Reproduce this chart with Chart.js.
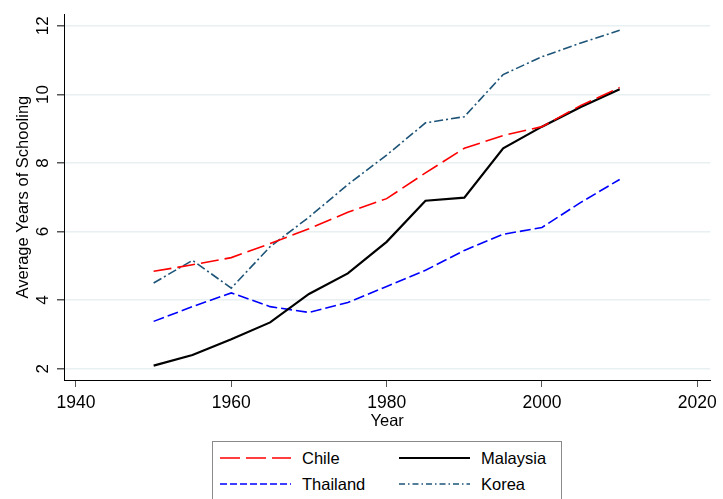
<!DOCTYPE html>
<html>
<head>
<meta charset="utf-8">
<script src="https://cdn.jsdelivr.net/npm/chart.js@4.4.1/dist/chart.umd.min.js"></script>
<style>
  body { margin: 0; background: #fff; font-family: "Liberation Sans", Arial, sans-serif; }
  #wrap { position: relative; width: 723px; height: 499px; overflow: hidden; }
  #chart { position: absolute; left: 0; top: 0; }
  #legend {
    position: absolute; left: 212px; top: 441px; width: 350px; height: 80px;
    border: 1px solid #8a8a8a; box-sizing: border-box;
  }
  .item { position: absolute; display: flex; align-items: center; font-size: 16.5px; color: #000; }
  .item svg { margin-right: 11px; }
</style>
</head>
<body>
<div id="wrap">
  <canvas id="chart" width="723" height="436"></canvas>
  <div id="legend"></div>
</div>
<script>
// data
const years = [1950, 1955, 1960, 1965, 1970, 1975, 1980, 1985, 1990, 1995, 2000, 2005, 2010];
const chile    = [4.84, 5.03, 5.24, 5.65, 6.08, 6.56, 6.96, 7.71, 8.43, 8.80, 9.06, 9.68, 10.20];
const malaysia = [2.09, 2.40, 2.86, 3.35, 4.18, 4.78, 5.70, 6.90, 6.99, 8.43, 9.06, 9.63, 10.15];
const thailand = [3.38, 3.81, 4.21, 3.81, 3.64, 3.93, 4.40, 4.87, 5.45, 5.92, 6.12, 6.85, 7.52];
const korea    = [4.50, 5.16, 4.35, 5.56, 6.42, 7.37, 8.23, 9.17, 9.35, 10.58, 11.10, 11.50, 11.87];

const xTicks = [1940, 1960, 1980, 2000, 2020];
const yTicks = [2, 4, 6, 8, 10, 12];

const series = [
    { label: 'Chile',    data: chile,    color: '#ff0000', width: 1.6, dash: [18, 6],       legendDash: [20, 6] },
    { label: 'Malaysia', data: malaysia, color: '#000000', width: 2.2, dash: [],            legendDash: [] },
    { label: 'Thailand', data: thailand, color: '#0000ff', width: 1.6, dash: [11, 4],       legendDash: [7, 3] },
    { label: 'Korea',    data: korea,    color: '#1d5478', width: 1.6, dash: [9, 3, 2, 3],  legendDash: [6, 3, 1.5, 3] }
];

const fontFamily = '"Liberation Sans", Arial, sans-serif';

const ctx = document.getElementById('chart').getContext('2d');
const chart = new Chart(ctx, {
    type: 'line',
    data: {
        datasets: series.map(s => ({
            label: s.label,
            data: years.map((y, i) => ({ x: y, y: s.data[i] })),
            borderColor: s.color,
            borderWidth: s.width,
            borderDash: s.dash,
            fill: false,
            pointRadius: 0,
            tension: 0
        }))
    },
    options: {
        responsive: false,
        animation: false,
        layout: { padding: { top: 8, right: 10, left: 0, bottom: 0 } },
        plugins: { legend: { display: false }, tooltip: { enabled: false } },
        scales: {
            x: {
                type: 'linear',
                min: 1938.46,
                max: 2021.67,
                afterBuildTicks: scale => { scale.ticks = xTicks.map(v => ({ value: v })); },
                afterFit: scale => { scale.height = 56; },
                grid: { display: true, drawOnChartArea: false, tickLength: 7, tickColor: '#555' },
                border: { color: '#000', width: 1 },
                ticks: { font: { family: fontFamily, size: 17.5 }, color: '#000', padding: 6, maxRotation: 0,
                         callback: v => String(v) },
                title: { display: true, text: 'Year', color: '#000', font: { family: fontFamily, size: 16.5 }, padding: { top: 0, bottom: 5 } }
            },
            y: {
                min: 1.67,
                max: 12.34,
                afterBuildTicks: scale => { scale.ticks = yTicks.map(v => ({ value: v })); },
                afterFit: scale => { scale.width = 64; },
                grid: { color: '#e8f0f2', lineWidth: 1.5, tickLength: 7, tickColor: '#555' },
                border: { color: '#000', width: 1 },
                ticks: { font: { family: fontFamily, size: 17 }, color: '#000', padding: 4, minRotation: 90, maxRotation: 90,
                         crossAlign: 'center', callback: v => String(v) },
                title: { display: true, text: 'Average Years of Schooling', color: '#000', font: { family: fontFamily, size: 16.5 }, padding: { top: 14, bottom: 0 } }
            }
        }
    }
});

// legend in a 2x2 box, like the original
const legend = document.getElementById('legend');
const cols = [7, 186];
const rows = [6, 32];
series.forEach((s, i) => {
    const el = document.createElement('div');
    el.className = 'item';
    el.style.left = cols[i % 2] + 'px';
    el.style.top = rows[Math.floor(i / 2)] + 'px';
    const svg = `<svg width="71" height="20"><line x1="0" y1="10" x2="71" y2="10" stroke="${s.color}" stroke-width="${s.width}" stroke-dasharray="${s.legendDash.join(' ')}"/></svg>`;
    el.innerHTML = svg + '<span>' + s.label + '</span>';
    legend.appendChild(el);
});
</script>
</body>
</html>
